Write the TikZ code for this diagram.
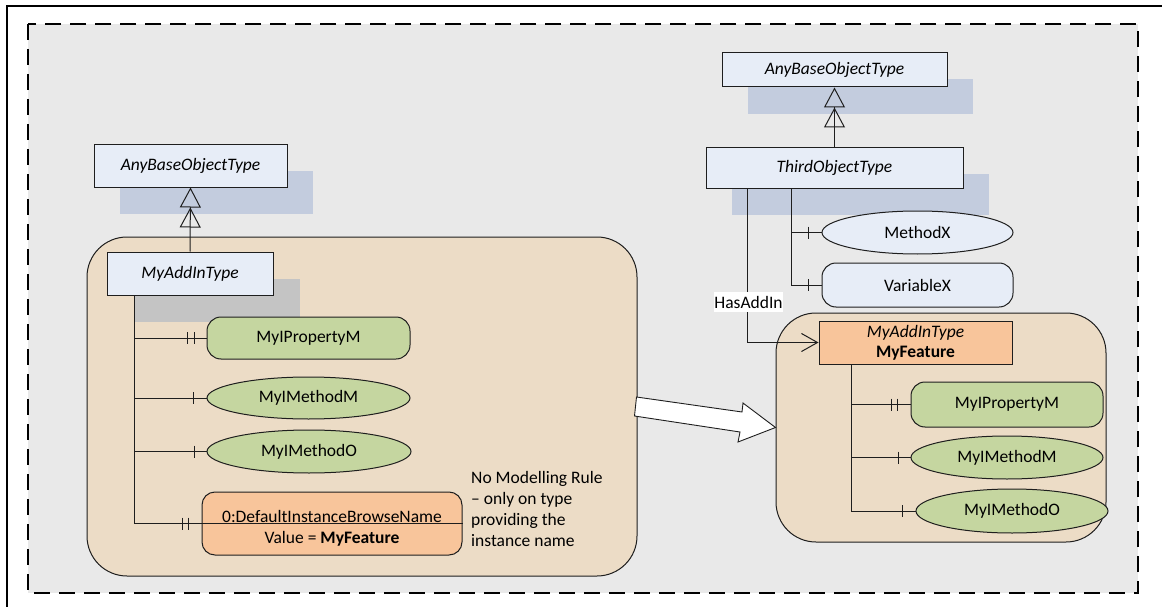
\documentclass[tikz,border=0pt]{standalone}
\usepackage{fontspec}
\setmainfont{Carlito}
\usetikzlibrary{calc,arrows.meta,shapes.geometric}
\definecolor{bgc}{HTML}{E9E9E9}
\definecolor{tanc}{HTML}{ECDCC6}
\definecolor{lbc}{HTML}{E7EDF7}
\definecolor{shb}{HTML}{C3CCDE}
\definecolor{shg}{HTML}{C4C4C4}
\definecolor{grc}{HTML}{C5D6A0}
\definecolor{orc}{HTML}{F8C59B}
\definecolor{lnc}{HTML}{1E1E1E}
\tikzset{
  every node/.style={font=\fontsize{17.5}{21}\selectfont, text=black},
  conn/.style={draw=lnc, line width=1pt},
  typebox/.style={draw=lnc, line width=1pt, fill=lbc, rectangle, inner sep=0pt, font=\fontsize{17.5}{21}\selectfont\itshape},
  propbox/.style={draw=lnc, line width=1pt, fill=grc, rectangle, rounded corners=14pt, inner sep=0pt},
  methell/.style={draw=lnc, line width=1pt, fill=grc, ellipse, inner sep=0pt},
  container/.style={draw=lnc, line width=1pt, fill=tanc, rounded corners=40pt},
  inh/.style={conn, -{Triangle[open,length=20pt,width=21pt]Triangle[open,length=20pt,width=21pt]}},
}
\newcommand{\mybar}[2]{\draw[conn] ($(#1.west)+(#2,-6)$) -- ++(0,12);}
\begin{document}
\begin{tikzpicture}[x=1pt,y=-1pt]
\useasboundingbox (0,0) rectangle (1162,607);
% outer frame
\draw[line width=2pt] (7,610) -- (7,6) -- (1165,6);
% dashed area
\draw[line width=2.5pt, dash pattern=on 16pt off 9pt, fill=bgc] (28,24) rectangle (1138,593);
% containers
\node[container, minimum width=550pt, minimum height=339pt, inner sep=0pt] (leftc) at (362,406.5) {};
\node[container, minimum width=330pt, minimum height=229pt, inner sep=0pt] (rightc) at (941,427.5) {};
% shadows
\fill[shb] (120,171) rectangle (313,214);
\fill[shg] (135,279) rectangle (300,322);
\fill[shb] (748,79) rectangle (973,114);
\fill[shb] (732,174) rectangle (989,215);
% left nodes
\node[typebox, minimum width=193pt, minimum height=42pt] (base1) at (190.5,166) {AnyBaseObjectType};
\node[typebox, minimum width=166pt, minimum height=43pt] (addin) at (190,273.5) {MyAddInType};
\node[propbox, minimum width=203pt, minimum height=42pt] (prop1) at (308.5,338) {MyIPropertyM};
\node[methell, minimum width=203pt, minimum height=42pt] (mm1) at (308.5,398) {MyIMethodM};
\node[methell, minimum width=204pt, minimum height=43pt] (mo1) at (309,451.5) {MyIMethodO};
\node[draw=lnc, line width=1pt, fill=orc, rounded corners=13pt, minimum width=260pt, minimum height=63pt, inner sep=0pt] (def) at (332,523.5) {};
\node[inner sep=0pt] (deft1) at (332,516) {0:DefaultInstanceBrowseName};
\node[inner sep=0pt] (deft2) at (332,539) {Value = \textbf{MyFeature}};
\node[anchor=west, align=left, inner sep=0pt] (note) at (471,509) {No Modelling Rule\\– only on type\\providing the\\instance name};
% right nodes
\node[typebox, minimum width=225pt, minimum height=34pt] (base2) at (834.5,70) {AnyBaseObjectType};
\node[typebox, minimum width=257pt, minimum height=40pt] (third) at (834.5,168) {ThirdObjectType};
\node[methell, fill=lbc, minimum width=191pt, minimum height=43pt] (mx) at (917.5,232.5) {MethodX};
\node[propbox, fill=lbc, minimum width=191pt, minimum height=44pt] (vx) at (917.5,285) {VariableX};
\node[draw=lnc, line width=1pt, fill=orc, minimum width=193pt, minimum height=43pt, inner sep=0pt, align=center] (feat) at (915.5,342.5) {\textit{MyAddInType}\\[-1pt]\textbf{MyFeature}};
\node[propbox, minimum width=192pt, minimum height=45pt] (prop2) at (1007,404.5) {MyIPropertyM};
\node[methell, minimum width=192pt, minimum height=43pt] (mm2) at (1007,457.5) {MyIMethodM};
\node[methell, minimum width=192pt, minimum height=44pt] (mo2) at (1012,511) {MyIMethodO};
% inheritance
\draw[inh] (addin.north) -- (base1.south);
\draw[inh] (third.north) -- (base2.south);
% left tree
\coordinate (lv) at ($(addin.south west)+(28,0)$);
\draw[conn] (lv) |- (def.east);
\draw[conn] (lv |- prop1.west) -- (prop1.west);
\draw[conn] (lv |- mm1.west) -- (mm1.west);
\draw[conn] (lv |- mo1.west) -- (mo1.west);
\mybar{prop1}{-19}\mybar{prop1}{-12.5}
\mybar{mm1}{-13}
\mybar{mo1}{-12}
\mybar{def}{-19}\mybar{def}{-13}
% right tree
\coordinate (rv) at ($(third.south west)+(86,0)$);
\draw[conn] (rv) |- (vx.west);
\draw[conn] (rv |- mx.west) -- (mx.west);
\mybar{mx}{-13}\mybar{vx}{-13}
\coordinate (hv) at ($(third.south west)+(42,0)$);
\draw[conn, -{Straight Barb[length=16pt,width=18pt]}] (hv) |- (feat.west);
\node[fill=white, minimum width=69pt, minimum height=20pt, inner sep=0pt] (has) at (748.5,302) {HasAddIn};
\coordinate (fv) at ($(feat.south west)+(33,0)$);
\draw[conn] (fv) |- (mo2.west);
\draw[conn] (fv |- prop2.west) -- (prop2.west);
\draw[conn] (fv |- mm2.west) -- (mm2.west);
\mybar{prop2}{-19}\mybar{prop2}{-13}
\mybar{mm2}{-12}
\mybar{mo2}{-13}
% big arrow from left container to right container
\draw[fill=white, line width=0.9pt, draw=lnc, line join=miter] ($(leftc.east)+(-1,-9.5)$) -- (742,412) -- (743,403) -- (rightc.west) -- (738,442) -- (740,432) -- ($(leftc.east)+(-3,9.5)$) -- cycle;
\end{tikzpicture}
\end{document}
